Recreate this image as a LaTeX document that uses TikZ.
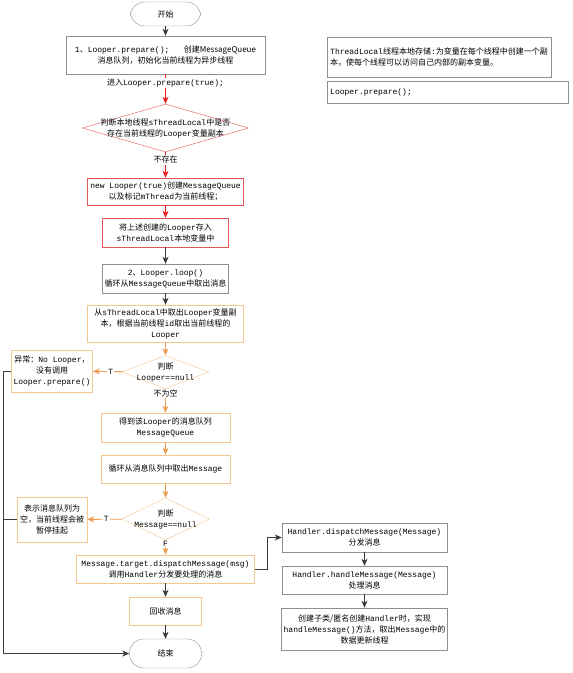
\documentclass[tikz,border=0pt]{standalone}
\usepackage{fontspec}
\setmainfont{Liberation Mono}
\newfontfamily\cjk{Noto Sans CJK SC}
\newcommand{\zh}[1]{{\cjk #1}}
\usetikzlibrary{arrows.meta,shapes.geometric}

\definecolor{boxgray}{HTML}{8E8E8E}
\definecolor{boxred}{HTML}{E25555}
\definecolor{boxorange}{HTML}{F4C792}
\definecolor{arrowdark}{HTML}{3A3A3A}
\definecolor{arrowred}{HTML}{F01818}
\definecolor{arroworange}{HTML}{EE9D55}

\begin{document}
\begin{tikzpicture}[
    x=1pt, y=-1pt,
    font=\fontsize{8}{11}\selectfont,
    proc/.style={draw=boxgray, fill=white, align=center, inner sep=2pt},
    redbox/.style={proc, draw=boxred},
    orabox/.style={proc, draw=boxorange},
    term/.style={proc, rounded corners=14pt},
    decision/.style={diamond, draw=boxorange, fill=white, inner sep=0pt},
    note/.style={proc, align=left, anchor=west, inner sep=3pt},
    flow/.style={draw=arrowdark, line width=0.9pt,
      -{Stealth[length=7pt,width=6pt,inset=2pt]}},
    redflow/.style={flow, draw=arrowred, fill=arrowred},
    oraflow/.style={flow, draw=arroworange, fill=arroworange},
    tag/.style={fill=white, inner sep=1pt}
  ]

  \path[use as bounding box] (0,0) rectangle (573,673);

  % Column centers
  \def\xMain{165.5}
  \def\xSide{52}
  \def\xRight{364.5}

  % =====================================================
  % PREPARE
  % =====================================================
  \node[term, minimum width=70pt, minimum height=24pt] (start) at (\xMain,14) {\zh{开始}};

  \node[proc, minimum width=199pt, minimum height=38pt] (prep) at (\xMain,55)
  {1\zh{、}Looper.prepare();\ \ \ \zh{创建MessageQueue}\\
   \zh{消息队列，初始化当前线程为异步线程}};

  \node[decision, draw=boxred, minimum width=166pt, minimum height=48pt,
    label={[align=center]center:\zh{判断本地线程}sThreadLocal\zh{中是否}\\
      \zh{存在当前线程的}Looper\zh{变量副本}}] (hasloop) at (\xMain,128) {};

  \node[redbox, minimum width=156pt, minimum height=27pt] (newloop) at (\xMain,191.5)
  {new Looper(true)\zh{创建}MessageQueue\\
   \zh{以及标记}mThread\zh{为当前线程；}};

  \node[redbox, minimum width=126pt, minimum height=29pt] (store) at (\xMain,232.5)
  {\zh{将上述创建的}Looper\zh{存入}\\ sThreadLocal\zh{本地变量中}};

  % =====================================================
  % LOOP
  % =====================================================
  \node[proc, minimum width=126pt, minimum height=29pt] (loop) at (\xMain,278.5)
  {2\zh{、}Looper.loop()\\ \zh{循环从}MessageQueue\zh{中取出消息}};

  \node[orabox, minimum width=156pt, minimum height=37pt] (fetch) at (\xMain,323.5)
  {\zh{从}sThreadLocal\zh{中取出}Looper\zh{变量副}\\
   \zh{本，根据当前线程}id\zh{取出当前线程的}\\ Looper};

  \node[decision, minimum width=87pt, minimum height=33pt,
    label={[align=center]center:\zh{判断}\\ Looper==null}] (isnull) at (\xMain,372) {};

  \node[orabox, minimum width=81pt, minimum height=42pt] (err) at (\xSide,371)
  {\zh{异常：}No Looper\zh{，}\\ \zh{没有调用}\\ Looper.prepare()};

  \node[orabox, minimum width=129pt, minimum height=29pt] (queue) at (\xMain,427.5)
  {\zh{得到该}Looper\zh{的消息队列}\\ MessageQueue};

  \node[orabox, minimum width=129pt, minimum height=28pt] (next) at (\xMain,469)
  {\zh{循环从消息队列中取出}Message};

  \node[decision, minimum width=88pt, minimum height=42pt,
    label={[align=center]center:\zh{判断}\\ Message==null}] (nomsg) at (\xMain,519) {};

  \node[orabox, minimum width=70pt, minimum height=45pt] (idle) at (\xSide,519.5)
  {\zh{表示消息队列为}\\ \zh{空，当前线程会被}\\ \zh{暂停挂起}};

  \node[orabox, minimum width=178pt, minimum height=28pt] (disp) at (\xMain,569)
  {Message.target.dispatchMessage(msg)\\ \zh{调用}Handler\zh{分发要处理的消息}};

  \node[orabox, minimum width=72pt, minimum height=28pt] (recycle) at (\xMain,611)
  {\zh{回收消息}};

  \node[term, minimum width=72pt, minimum height=29pt] (stop) at (\xMain,653.5) {\zh{结束}};

  % =====================================================
  % HANDLER
  % =====================================================
  \node[proc, minimum width=165pt, minimum height=29pt] (hdisp) at (\xRight,537.5)
  {Handler.dispatchMessage(Message)\\ \zh{分发消息}};

  \node[proc, minimum width=165pt, minimum height=28pt] (hhandle) at (\xRight,580)
  {Handler.handleMessage(Message)\\ \zh{处理消息}};

  \node[proc, minimum width=165pt, minimum height=42pt] (hsub) at (\xRight,629)
  {\zh{创建子类/匿名创建}Handler\zh{时，实现}\\
   handleMessage()\zh{方法，取出}Message\zh{中的}\\ \zh{数据更新线程}};

  % =====================================================
  % NOTES
  % =====================================================
  \node[note, text width=218pt, minimum height=40pt] (tlnote) at (327,57)
  {ThreadLocal\zh{线程本地存储}:\zh{为变量在每个线程中创建一个副}\\
   \zh{本，使每个线程可以访问自己内部的副本变量。}};

  \node[note, text width=235pt, minimum height=22pt] (prepnote) at (327,92)
  {Looper.prepare();};

  % =====================================================
  % ARROWS
  % =====================================================
  \draw[flow] (start) -- (prep);
  \draw[redflow] (prep) -- node[tag, pos=0.3] {\zh{进入}Looper.prepare(true);} (hasloop);
  \draw[redflow] (hasloop) -- node[tag, pos=0.3] {\zh{不存在}} (newloop);
  \draw[redflow] (newloop) -- (store);
  \draw[flow] (store) -- (loop);
  \draw[flow] (loop) -- (fetch);
  \draw[oraflow] (fetch) -- (isnull);
  \draw[oraflow] (isnull) -- node[tag, pos=0.4] {T} (err);
  \draw[oraflow] (isnull) -- node[tag, pos=0.2] {\zh{不为空}} (queue);
  \draw[oraflow] (queue) -- (next);
  \draw[oraflow] (next) -- (nomsg);
  \draw[oraflow] (nomsg) -- node[tag, pos=0.45] {T} (idle);
  \draw[oraflow] (nomsg) -- node[tag, pos=0.25] {F} (disp);
  \draw[flow] (disp) -- (recycle);
  \draw[flow] (recycle) -- (stop);

  % side rail back to the end
  \coordinate (rail) at (3,371);
  \draw[flow] (err.west) -- (rail) -- (rail |- stop.west) -- (stop.west);
  \draw[draw=arrowdark, line width=0.9pt] (idle.west) -- (rail |- idle.west);

  % to the handler column
  \draw[flow] (disp.east) -- ++(13,0) |- (hdisp.west);
  \draw[flow] (hdisp) -- (hhandle);
  \draw[flow] (hhandle) -- (hsub);

\end{tikzpicture}
\end{document}
